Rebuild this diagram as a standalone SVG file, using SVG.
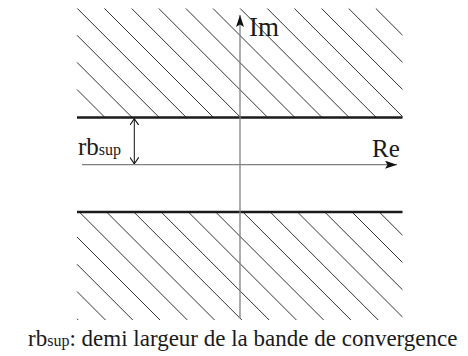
<svg xmlns="http://www.w3.org/2000/svg" width="468" height="356" viewBox="0 0 468 356">
<style>
.hatch line{stroke:#333;stroke-width:1}
.hatch line.bound{stroke:#1a1a1a;stroke-width:2.4}
.axis{stroke:#808080;stroke-width:1.3;fill:none}
.dim{stroke:#111;stroke-width:1;fill:none}
text{font-family:"Liberation Serif","Times New Roman",serif;fill:#1a1a1a}
.lbl{font-size:25px}
.cap{font-size:23px}
.sub{font-size:16px}
</style>
<defs>
<marker id="ah" markerUnits="userSpaceOnUse" viewBox="0 0 12 8" refX="12" refY="4" markerWidth="12" markerHeight="8" orient="auto">
<path d="M0,0 L12,4 L0,8 L2.5,4 z" fill="#111"/>
</marker>
<marker id="va" markerUnits="userSpaceOnUse" viewBox="0 0 7 9" refX="6.5" refY="4.5" markerWidth="7" markerHeight="9" orient="auto-start-reverse">
<path d="M0,0 L6.5,4.5 L0,9" fill="none" stroke="#111" stroke-width="1.1"/>
</marker>
</defs>
<g id="upper-region" class="hatch">
<line x1="77" y1="89.5" x2="105" y2="117.5"/>
<line x1="77" y1="62.37" x2="132.13" y2="117.5"/>
<line x1="77" y1="35.24" x2="159.26" y2="117.5"/>
<line x1="77.39" y1="8.5" x2="186.39" y2="117.5"/>
<line x1="104.52" y1="8.5" x2="213.52" y2="117.5"/>
<line x1="131.65" y1="8.5" x2="240.65" y2="117.5"/>
<line x1="158.78" y1="8.5" x2="267.78" y2="117.5"/>
<line x1="185.91" y1="8.5" x2="294.91" y2="117.5"/>
<line x1="213.04" y1="8.5" x2="322.04" y2="117.5"/>
<line x1="240.17" y1="8.5" x2="349.17" y2="117.5"/>
<line x1="267.3" y1="8.5" x2="376.3" y2="117.5"/>
<line x1="294.43" y1="8.5" x2="402.5" y2="116.57"/>
<line x1="321.56" y1="8.5" x2="402.5" y2="89.44"/>
<line x1="348.69" y1="8.5" x2="402.5" y2="62.31"/>
<line x1="375.82" y1="8.5" x2="402.5" y2="35.18"/>
<line class="bound" x1="77" y1="117.5" x2="402.5" y2="117.5"/>
</g>
<g id="lower-region" class="hatch">
<line x1="77" y1="318.78" x2="78.22" y2="320"/>
<line x1="77" y1="291.51" x2="105.49" y2="320"/>
<line x1="77" y1="264.24" x2="132.76" y2="320"/>
<line x1="77" y1="236.97" x2="160.03" y2="320"/>
<line x1="79.3" y1="212" x2="187.3" y2="320"/>
<line x1="106.57" y1="212" x2="214.57" y2="320"/>
<line x1="133.84" y1="212" x2="241.84" y2="320"/>
<line x1="161.11" y1="212" x2="269.11" y2="320"/>
<line x1="188.38" y1="212" x2="296.38" y2="320"/>
<line x1="215.65" y1="212" x2="323.65" y2="320"/>
<line x1="242.92" y1="212" x2="350.92" y2="320"/>
<line x1="270.19" y1="212" x2="378.19" y2="320"/>
<line x1="297.46" y1="212" x2="402.5" y2="317.04"/>
<line x1="324.73" y1="212" x2="402.5" y2="289.77"/>
<line x1="352" y1="212" x2="402.5" y2="262.5"/>
<line x1="379.27" y1="212" x2="402.5" y2="235.23"/>
<line class="bound" x1="77" y1="212" x2="402.5" y2="212"/>
</g>
<g id="connectors">
<line id="im-axis" class="axis" x1="240" y1="318" x2="240" y2="15" marker-end="url(#ah)"/>
<line id="re-axis" class="axis" x1="82" y1="164.7" x2="397" y2="164.7" marker-end="url(#ah)"/>
<line id="rb-dim" class="dim" x1="134.3" y1="118.8" x2="134.3" y2="163.8" marker-start="url(#va)" marker-end="url(#va)"/>
</g>
<g id="labels">
<text class="lbl" x="249" y="36" style="font-size:27px">Im</text>
<text class="lbl" x="372" y="156.5">Re</text>
<text class="lbl" x="78" y="155">rb<tspan class="sub">sup</tspan></text>
<text class="cap" x="28" y="346">rb<tspan class="sub">sup</tspan>: demi largeur de la bande de convergence</text>
</g>
</svg>
